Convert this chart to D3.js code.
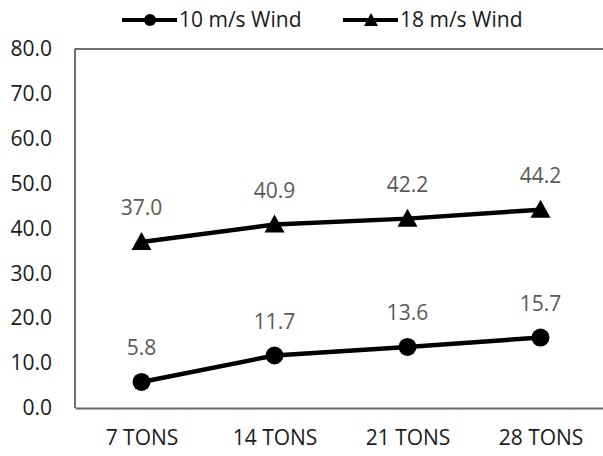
<!DOCTYPE html>
<html>
<head>
<meta charset="utf-8">
<script src="https://cdn.jsdelivr.net/npm/d3@7"></script>
<style>
    body { margin: 0; background: #fff; }
    text { font-family: 'Open Sans', 'Lato', sans-serif; }
</style>
</head>
<body>
<svg id="chart" width="603" height="456"></svg>
<script>
var categories = ['7 TONS', '14 TONS', '21 TONS', '28 TONS'];
var wind10 = [5.8, 11.7, 13.6, 15.7];
var wind18 = [37.0, 40.9, 42.2, 44.2];
var yTicks = [0, 10, 20, 30, 40, 50, 60, 70, 80];
var seriesNames = ['10 m/s Wind', '18 m/s Wind'];

var svg = d3.select('#chart');
var plotLeft = 75, plotRight = 607, plotTop = 49, plotBottom = 408;
var fontSize = '21px';

var x = d3.scalePoint()
    .domain(categories)
    .range([plotLeft, plotRight])
    .padding(0.5);

var y = d3.scaleLinear()
    .domain([0, 80])
    .range([plotBottom, plotTop]);

// frame
svg.append('line')
    .attr('x1', plotLeft).attr('x2', plotRight)
    .attr('y1', plotTop).attr('y2', plotTop)
    .style('stroke', '#404040')
    .style('stroke-width', 1.5);
svg.append('line')
    .attr('x1', plotLeft).attr('x2', plotLeft)
    .attr('y1', plotTop).attr('y2', plotBottom)
    .style('stroke', '#404040')
    .style('stroke-width', 1.5);

// y axis labels
var yAxis = d3.axisLeft(y)
    .tickValues(yTicks)
    .tickSize(0)
    .tickPadding(23)
    .tickFormat(d3.format('.1f'));
var gy = svg.append('g')
    .attr('transform', 'translate(' + plotLeft + ',0)')
    .call(yAxis);
gy.select('.domain').remove();
gy.selectAll('text')
    .style('font-size', fontSize)
    .style('fill', '#1a1a1a');

// x axis
var xAxis = d3.axisBottom(x)
    .tickSize(0)
    .tickPadding(22);
var gx = svg.append('g')
    .attr('transform', 'translate(0,' + plotBottom + ')')
    .call(xAxis);
gx.select('.domain')
    .style('stroke', '#666')
    .style('stroke-width', 2);
gx.selectAll('text')
    .style('font-size', fontSize)
    .style('fill', '#1a1a1a');

var line = d3.line()
    .x(function(d, i) { return x(categories[i]); })
    .y(function(d) { return y(d); });

function drawSeries(values, shape) {
    svg.append('path')
        .datum(values)
        .attr('d', line)
        .style('fill', 'none')
        .style('stroke', '#000')
        .style('stroke-width', 4.5);

    values.forEach(function(v, i) {
        var cx = x(categories[i]), cy = y(v);
        if (shape === 'circle') {
            svg.append('circle')
                .attr('cx', cx).attr('cy', cy).attr('r', 9)
                .style('fill', '#000');
        } else {
            svg.append('path')
                .attr('d', 'M' + cx + ',' + (cy - 10) + 'L' + (cx + 10) + ',' + (cy + 8) + 'L' + (cx - 10) + ',' + (cy + 8) + 'Z')
                .style('fill', '#000');
        }
        svg.append('text')
            .attr('x', cx)
            .attr('y', cy - 34)
            .attr('dy', '0.35em')
            .attr('text-anchor', 'middle')
            .text(d3.format('.1f')(v))
            .style('font-size', fontSize)
            .style('fill', '#595959');
    });
}

drawSeries(wind18, 'triangle');
drawSeries(wind10, 'circle');

// legend
function legendItem(lx, name, shape) {
    var ly = 20;
    svg.append('line')
        .attr('x1', lx).attr('x2', lx + 55)
        .attr('y1', ly).attr('y2', ly)
        .style('stroke', '#000')
        .style('stroke-width', 4);
    var mx = lx + 28;
    if (shape === 'circle') {
        svg.append('circle')
            .attr('cx', mx).attr('cy', ly).attr('r', 6)
            .style('fill', '#000');
    } else {
        svg.append('path')
            .attr('d', 'M' + mx + ',' + (ly - 7) + 'L' + (mx + 7) + ',' + (ly + 6) + 'L' + (mx - 7) + ',' + (ly + 6) + 'Z')
            .style('fill', '#000');
    }
    svg.append('text')
        .attr('x', lx + 57)
        .attr('y', ly)
        .attr('dy', '0.35em')
        .text(name)
        .style('font-size', fontSize)
        .style('fill', '#1a1a1a');
}
legendItem(122, seriesNames[0], 'circle');
legendItem(343, seriesNames[1], 'triangle');
</script>
</body>
</html>
